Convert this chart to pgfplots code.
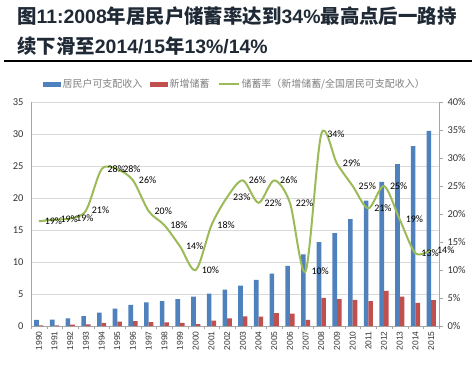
\documentclass[border=0pt]{standalone}
\usepackage{pgfplots}
\usepackage{pgfplotstable}
\pgfplotsset{compat=1.18}
\usepackage{fontspec}
\setmainfont{Liberation Sans}
\newfontfamily\cjk{Noto Sans CJK SC}
\newfontfamily\calibri{Carlito}
\definecolor{barblue}{HTML}{4F81BD}
\definecolor{barred}{HTML}{C0504D}
\definecolor{linegreen}{HTML}{9BBB59}
\definecolor{titlecol}{HTML}{1F2A36}
\definecolor{gridcol}{HTML}{D9D9D9}
\definecolor{axcol}{HTML}{A6A6A6}
\definecolor{tickcol}{HTML}{333333}

\pgfplotstableread{
x blue red rate lab
0 0.95 0.10 18.7 19
1 1.00 0.10 19.0 19
2 1.20 0.20 19.2 19
3 1.55 0.26 20.6 21
4 2.10 0.47 28.0 28
5 2.70 0.68 28.0 28
6 3.30 0.78 26.0 26
7 3.70 0.62 20.5 20
8 3.90 0.57 18.0 18
9 4.20 0.47 14.2 14
10 4.60 0.30 10.0 10
11 5.05 0.83 18.0 18
12 5.70 1.20 23.0 23
13 6.30 1.50 26.0 26
14 7.20 1.46 22.0 22
15 8.20 2.03 26.0 26
16 9.40 1.93 22.0 22
17 11.20 0.94 9.8 10
18 13.10 4.40 34.3 34
19 14.50 4.20 29.0 29
20 16.70 4.10 25.0 25
21 19.60 3.90 21.0 21
22 22.50 5.50 25.0 25
23 25.30 4.60 19.0 19
24 28.10 3.60 13.0 13
25 30.50 4.05 13.6 14
}\datatable

\begin{document}
\begin{tikzpicture}
\useasboundingbox (-31bp,-39bp) rectangle (445bp,326bp);

% title
\node[anchor=west, inner sep=0pt, text=titlecol, font=\cjk\bfseries\fontsize{19.5}{22}\selectfont]
  at (-14bp,309.5bp) {图{\rmfamily\bfseries 11:2008}年居民户储蓄率达到{\rmfamily\bfseries 34\%}最高点后一路持};
\node[anchor=west, inner sep=0pt, text=titlecol, font=\cjk\bfseries\fontsize{19.5}{22}\selectfont]
  at (-14bp,279.5bp) {续下滑至{\rmfamily\bfseries 2014/15}年{\rmfamily\bfseries 13\%/14\%}};
\draw[black, line width=1.3bp] (-27bp,265bp) -- (441bp,265bp);

\begin{axis}[
  at={(0,0)}, anchor=south west, scale only axis,
  width=408bp, height=224bp,
  xmin=-0.5, xmax=25.5, ymin=0, ymax=35,
  ybar=0pt, bar width=4.6bp,
  ytick={0,5,...,35},
  xtick={0,...,25},
  xticklabels={1990,1991,1992,1993,1994,1995,1996,1997,1998,1999,2000,2001,2002,2003,2004,2005,2006,2007,2008,2009,2010,2011,2012,2013,2014,2015},
  minor xtick={-0.5,0.5,...,25.5},
  axis x line*=bottom, axis y line*=left,
  axis line style={draw=axcol},
  tick align=outside,
  major tick length=0pt, minor tick length=3bp,
  minor tick style={draw=axcol},
  ymajorgrids, grid style={draw=gridcol, line width=0.6bp},
  /pgf/number format/assume math mode=true,
  x tick label style={rotate=90, anchor=east, font=\fontsize{8.5}{9}\selectfont, text=tickcol, xshift=-2bp},
  y tick label style={font=\calibri\fontsize{10.5}{12}\selectfont, text=tickcol, xshift=-4bp},
  clip=false,
]
\addplot[fill=barblue, draw=none] table[x=x, y=blue] {\datatable};
\addplot[fill=barred, draw=none] table[x=x, y=red] {\datatable};
\end{axis}

\begin{axis}[
  at={(0,0)}, anchor=south west, scale only axis,
  width=408bp, height=224bp,
  xmin=-0.5, xmax=25.5, ymin=0, ymax=40,
  axis y line*=right, axis x line=none,
  ytick={0,5,...,40},
  yticklabel={\pgfmathprintnumber{\tick}\%},
  axis line style={draw=axcol},
  tick align=outside, major tick length=4bp,
  tick style={draw=axcol},
  /pgf/number format/assume math mode=true,
  y tick label style={font=\calibri\fontsize{10.5}{12}\selectfont, text=tickcol, xshift=1bp},
  clip=false,
  legend style={at={(0.5,1.08)}, anchor=center, draw=none, fill=none,
    legend columns=3, font=\cjk\fontsize{10}{12}\selectfont, text=gray,
    /tikz/every even column/.append style={column sep=6bp},
    inner sep=0pt},
  legend cell align=left,
]
\addlegendimage{legend image code/.code={\fill[barblue] (0bp,-2.2bp) rectangle (17bp,2.2bp);}}
\addlegendentry{居民户可支配收入}
\addlegendimage{legend image code/.code={\fill[barred] (0bp,-2.2bp) rectangle (17bp,2.2bp);}}
\addlegendentry{新增储蓄}
\addplot[linegreen, line width=2bp, smooth, tension=0.5, mark=none,
  point meta=explicit,
  nodes near coords={\pgfmathprintnumber{\pgfplotspointmeta}\%},
  every node near coord/.append style={anchor=west, xshift=4bp, inner sep=1pt,
     text=black, font=\calibri\fontsize{10}{11}\selectfont},
  legend image code/.code={\draw[linegreen, line width=2bp] (0bp,0bp) -- (20bp,0bp);}]
  table[x=x, y=rate, meta=lab] {\datatable};
\addlegendentry{储蓄率（新增储蓄/全国居民可支配收入）}
\end{axis}
\end{tikzpicture}
\end{document}
